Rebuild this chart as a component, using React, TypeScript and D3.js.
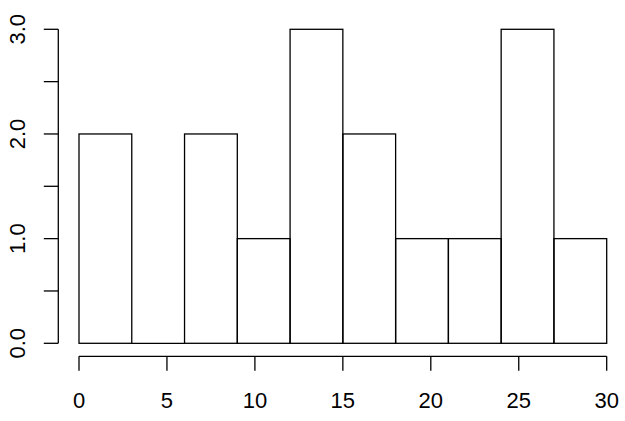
import React from "react";
import * as d3 from "d3";

const binStarts = [0, 3, 6, 9, 12, 15, 18, 21, 24, 27];
const binWidth = 3;
const counts = [2, 0, 2, 1, 3, 2, 1, 1, 3, 1];
const xTicks = [0, 5, 10, 15, 20, 25, 30];
const yTicks = [0, 0.5, 1, 1.5, 2, 2.5, 3];
const yLabels = [0, 1, 2, 3];

export default function App() {
  const W = 625, H = 421;
  const x = d3.scaleLinear().domain([0, 30]).range([79, 606.7]);
  const y = d3.scaleLinear().domain([0, 3]).range([343.3, 29.3]);
  const axisY = 356.3;
  const axisX = 58.3;
  const tick = 14.5;
  const font = "Liberation Sans, Arial, sans-serif";
  const sw = 1.3;
  return (
    <svg width={W} height={H} style={{ position: "absolute", left: 0, top: 0, background: "#fff" }}>
      {binStarts.map((b, i) => (
        counts[i] > 0 ? (
          <rect key={i} x={x(b)} y={y(counts[i])} width={x(b + binWidth) - x(b)} height={y(0) - y(counts[i])}
            fill="none" stroke="#000" strokeWidth={sw} />
        ) : (
          <line key={i} x1={x(b)} x2={x(b + binWidth)} y1={y(0)} y2={y(0)} stroke="#000" strokeWidth={sw} />
        )
      ))}
      <line x1={x(0)} x2={x(30)} y1={axisY} y2={axisY} stroke="#000" strokeWidth={sw} />
      {xTicks.map(t => (
        <g key={t}>
          <line x1={x(t)} x2={x(t)} y1={axisY} y2={axisY + tick} stroke="#000" strokeWidth={sw} />
          <text x={x(t)} y={408.3} fontSize={22} fontFamily={font} textAnchor="middle">{t}</text>
        </g>
      ))}
      <line x1={axisX} x2={axisX} y1={y(0)} y2={y(3)} stroke="#000" strokeWidth={sw} />
      {yTicks.map(t => (
        <line key={t} x1={axisX - tick} x2={axisX} y1={y(t)} y2={y(t)} stroke="#000" strokeWidth={sw} />
      ))}
      {yLabels.map(t => (
        <text key={t} transform={`translate(25,${y(t)}) rotate(-90)`} fontSize={22} fontFamily={font} textAnchor="middle">
          {t.toFixed(1)}
        </text>
      ))}
    </svg>
  );
}
